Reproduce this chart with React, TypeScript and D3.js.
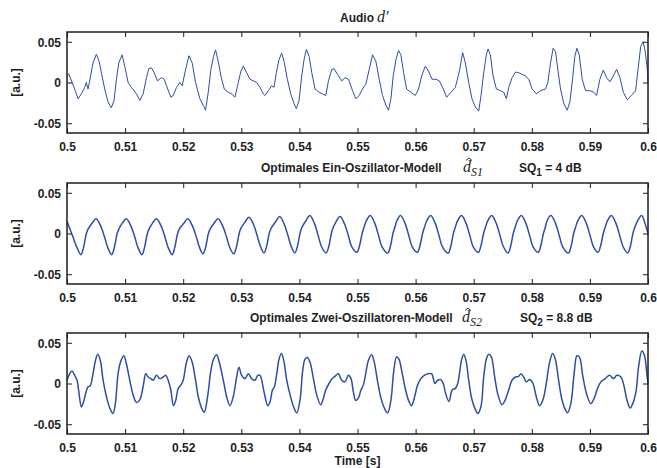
import React, { useRef, useEffect } from "react";
import { select, scaleLinear, line, axisBottom, axisTop, axisLeft, axisRight, curveLinear, curveCatmullRom } from "d3";

// x ticks (time in s) and y ticks (a.u.)
const xTicks = [0.5, 0.51, 0.52, 0.53, 0.54, 0.55, 0.56, 0.57, 0.58, 0.59, 0.6];
const xTickLabels = ["0.5", "0.51", "0.52", "0.53", "0.54", "0.55", "0.56", "0.57", "0.58", "0.59", "0.6"];
const yTicks = [-0.05, 0, 0.05];
const yTickLabels = ["-0.05", "0", "0.05"];

// samples: [ms after 0.5 s, value in 1e-3 a.u.]
const audioSamples: [number, number][] = [
  [0.0, 8], [0.29, 10.8], [1.32, -8], [1.9, -20], [2.47, -14], [3.05, -6], [3.33, 0], [3.62, -8], [3.91, 2],
  [4.48, 24], [5.06, 34.8], [5.52, 26], [5.92, 12], [6.49, -8], [7.07, -24], [7.64, -31], [8.1, -22], [8.51, 4],
  [8.91, 24], [9.48, 34], [9.94, 20], [10.52, 0], [11.09, -6], [11.95, -14], [12.53, -22], [13.1, -14], [13.68, 6],
  [14.08, 16.8], [14.54, 18], [15.0, 12], [15.57, 2], [16.26, 6], [16.72, 4], [17.13, -4], [17.87, -18], [18.28, -16],
  [18.85, -6], [19.43, 0], [19.83, -4], [20.29, 12], [20.98, 32.8], [21.55, 24], [22.13, 0], [22.87, -20], [23.45, -28],
  [23.85, -34], [24.31, -12], [24.77, 16], [25.23, 32], [25.57, 40], [26.03, 26], [26.49, 8], [27.07, -8], [27.76, -12],
  [28.33, -14], [28.91, -18], [29.48, 0], [29.94, 14], [30.34, 20], [30.92, 12], [31.49, 4], [32.07, 2], [32.64, 0],
  [33.22, -6], [33.79, -14], [34.08, -16], [34.66, -10], [35.23, -4], [35.63, -6], [36.03, 12], [36.49, 28], [36.95, 36],
  [37.36, 26], [37.93, 4], [38.51, -14], [39.08, -26], [39.48, -32], [39.94, -22], [40.4, 8], [40.8, 28], [41.21, 40.8],
  [41.67, 32], [42.13, 12], [42.7, -8], [43.39, -12], [43.97, -14], [44.54, -16], [45.0, 2], [45.57, 16], [45.98, 16.8],
  [46.55, 10], [47.3, 2], [47.87, 6], [48.45, 4], [49.14, -10], [49.71, -20], [50.29, -16], [50.86, -8], [51.44, -2],
  [52.01, 16], [52.59, 34], [53.16, 26], [53.74, 4], [54.31, -16], [54.89, -28], [55.34, -34], [55.75, -20], [56.15, 8],
  [56.61, 28], [57.07, 39.2], [57.47, 34], [57.93, 12], [58.45, -8], [59.2, -12], [59.94, -16], [60.52, -8], [61.03, 8],
  [61.67, 20], [62.24, 14], [62.82, 4], [63.51, 4], [64.08, 2], [64.77, -8], [65.34, -18], [66.09, -12], [66.84, -6],
  [67.13, 2], [67.59, 16], [68.1, 36.8], [68.56, 24], [69.14, 0], [69.71, -20], [70.29, -30], [70.86, -35.2], [71.26, -16],
  [71.72, 12], [72.18, 34], [72.47, 41.2], [72.87, 34], [73.33, 8], [73.91, -8], [74.6, -10], [75.17, -12], [75.63, -20],
  [76.03, -6], [76.61, 6], [77.18, 12.8], [77.76, 12], [78.33, 10], [78.91, 8], [79.48, 4], [80.06, -8], [80.8, -14],
  [81.49, -10], [82.36, -8], [82.76, 0], [83.22, 24], [83.68, 42], [84.08, 38], [84.48, 16], [84.94, -8], [85.52, -26],
  [86.09, -34], [86.55, -24], [87.01, 4], [87.41, 32], [87.76, 42], [88.16, 34], [88.68, 4], [89.25, -10], [90.0, -10],
  [90.69, -12], [91.15, -16], [91.72, 4], [92.3, 15.2], [92.87, 6], [93.45, 0.8], [94.02, 8], [94.6, 16], [95.17, 6],
  [95.75, -12], [96.44, -21.2], [97.13, -16], [97.87, -10], [98.28, 16], [98.74, 44], [99.14, 50], [99.48, 40],
  [99.89, 16], [100.0, 0],
];

const einOszillatorSamples: [number, number][] = [
  [0, 15], [0.85, -1], [1.7, -17],
  [2.4, -26], [2.85, -17], [3.3, -1], [3.6, 5], [4.35, 13], [5.0, 18], [5.75, 10], [6.45, -4], [7.0, -17],
  [7.7, -26], [8.15, -17], [8.6, -1], [8.9, 5], [9.55, 13], [10.2, 18], [10.95, 10], [11.65, -4], [12.2, -17],
  [12.9, -26], [13.35, -17], [13.8, -1], [14.1, 5], [14.75, 13], [15.4, 18], [16.15, 10], [16.85, -4], [17.4, -17],
  [18.1, -26], [18.55, -17], [19.0, -1], [19.3, 5], [20.15, 13], [20.8, 18], [21.55, 10], [22.25, -4], [22.8, -17],
  [23.4, -25], [23.85, -17], [24.3, -1], [24.6, 5], [25.35, 13], [26.0, 18], [26.75, 10], [27.45, -4], [28.0, -17],
  [28.7, -25], [29.15, -17], [29.6, -1], [29.9, 6], [30.65, 14], [31.3, 20], [32.05, 12], [32.75, -3], [33.3, -16],
  [33.9, -24], [34.35, -16], [34.8, 0], [35.1, 6], [35.95, 15], [36.6, 21], [37.35, 12], [38.05, -3], [38.6, -16],
  [39.2, -24], [39.65, -16], [40.1, 0], [40.4, 7], [41.15, 16], [41.8, 22], [42.55, 13], [43.25, -3], [43.8, -16],
  [44.6, -24], [45.05, -16], [45.5, 0], [45.8, 7], [46.35, 15], [47.0, 21], [47.75, 12], [48.45, -3], [49.0, -16],
  [49.9, -23], [50.35, -15], [50.8, 0], [51.1, 7], [51.55, 16], [52.2, 22], [52.95, 13], [53.65, -3], [54.2, -16],
  [55.2, -24], [55.65, -16], [56.1, 0], [56.4, 7], [56.8, 16], [57.4, 22], [58.15, 13], [58.85, -3], [59.4, -16],
  [60.3, -23], [60.75, -15], [61.2, 0], [61.5, 7], [61.95, 16], [62.6, 22], [63.35, 13], [64.05, -3], [64.6, -16],
  [65.6, -24], [66.05, -16], [66.5, 0], [66.8, 7], [67.25, 16], [67.9, 22], [68.65, 13], [69.35, -3], [69.9, -16],
  [70.8, -23], [71.25, -15], [71.7, 0], [72.0, 7], [72.45, 16], [73.1, 22], [73.85, 13], [74.55, -3], [75.1, -16],
  [75.9, -24], [76.35, -16], [76.8, 0], [77.1, 7], [77.55, 16], [78.2, 22], [78.95, 13], [79.65, -3], [80.2, -16],
  [81.1, -23], [81.55, -15], [82.0, 0], [82.3, 7], [82.65, 16], [83.3, 22], [84.05, 13], [84.75, -3], [85.3, -16],
  [86.3, -24], [86.75, -16], [87.2, 0], [87.5, 7], [87.95, 16], [88.6, 22], [89.35, 13], [90.05, -3], [90.6, -16],
  [91.4, -23], [91.85, -15], [92.3, 0], [92.6, 7], [93.05, 16], [93.7, 22], [94.45, 13], [95.15, -3], [95.7, -16],
  [96.5, -24], [96.95, -16], [97.4, 0], [97.7, 7], [98.25, 16], [98.9, 22], [99.5, 12], [100, 0],
];

const zweiOszillatorSamples: [number, number][] = [
  [0.0, 4], [0.46, 12], [0.86, 15.2], [1.32, 10], [1.72, 4], [2.07, -12], [2.47, -28.8], [2.87, -22], [3.22, -12],
  [3.62, -4], [3.97, -3.2], [4.48, 12], [4.89, 28], [5.29, 36], [5.75, 28], [6.21, 4], [6.78, -16], [7.36, -30],
  [7.93, -36.8], [8.33, -24], [8.79, 12], [9.2, 26], [9.77, 34], [10.23, 24], [10.8, 4], [11.38, -14], [11.95, -23.2],
  [12.53, -20], [13.1, -4], [13.56, 12], [13.97, 8], [14.43, 6], [14.83, 4], [15.4, 10], [15.98, 6], [16.55, 8],
  [17.01, 10], [17.41, 4], [17.87, -8], [18.33, -27.2], [18.74, -20], [19.14, -6], [19.6, -2], [20.0, 4], [20.57, 26],
  [21.03, 34], [21.55, 26], [22.13, 4], [22.59, -16], [23.16, -30], [23.62, -35.2], [24.2, -16], [24.77, 16], [25.23, 30],
  [25.75, 35.2], [26.21, 26], [26.9, 4], [27.47, -16], [28.05, -27.2], [28.62, -16], [29.2, 8], [29.6, 20], [30.06, 10],
  [30.63, 6], [31.21, 12], [31.78, 6], [32.36, 4], [32.82, 10], [33.22, 10], [33.79, -6], [34.08, -16],
  [34.56, -27.2], [34.96, -22], [35.36, -8], [35.7, -4], [36.1, 12], [36.5, 30], [36.91, 36.8], [37.31, 28], [37.82, 4],
  [38.4, -14], [38.97, -28], [39.54, -36], [40.11, -20], [40.57, 16], [40.97, 30], [41.38, 32], [41.83, 26], [42.41, 6],
  [42.98, -14], [43.67, -26], [44.13, -18], [44.53, -8], [45.1, 0], [45.67, 6], [46.13, 8.8], [46.7, 12], [47.28, 4],
  [47.85, 2], [48.42, 10], [48.88, 6], [49.28, -10], [49.68, -20.8], [50.14, -18], [50.6, -8], [51.0, -2], [51.46, 14],
  [51.86, 28], [52.44, 35.2], [52.89, 26], [53.47, 2], [54.04, -18], [54.61, -30], [55.19, -36], [55.76, -20], [56.22, 14],
  [56.73, 32.8], [57.13, 30], [57.71, 12], [58.28, -8], [58.85, -22], [59.31, -27.2], [59.77, -18], [60.34, -2],
  [60.92, 6], [61.49, 10], [62.18, 12], [62.75, 12], [63.32, 0], [63.78, 4], [64.36, 4.8], [64.76, 0], [65.16, -12],
  [65.73, -22], [66.3, -8], [66.85, -6], [67.25, 0], [67.59, 14], [67.88, 28], [68.28, 36], [68.68, 28], [69.14, 4],
  [69.71, -20], [70.29, -32], [70.74, -36.8], [71.26, -28], [71.72, 8], [72.18, 30], [72.58, 36], [73.04, 32.8],
  [73.61, 8], [74.18, -14], [74.87, -26], [75.44, -20], [76.02, -8], [76.59, 4], [77.16, 8], [77.74, 8.8], [78.14, 12],
  [78.6, 8], [79.05, 2], [79.63, 4.8], [80.2, 0], [80.77, -16], [81.35, -27.2], [81.92, -20], [82.49, 0], [83.01, 24],
  [83.58, 36.8], [84.04, 30], [84.61, 4], [85.19, -20], [85.76, -32], [86.16, -36], [86.73, -24], [87.31, 14], [87.77, 34],
  [88.22, 32], [88.8, 8], [89.48, -14], [90.17, -24.8], [90.74, -18], [91.32, -6], [91.89, 2], [92.64, 6], [93.38, 10],
  [94.07, 6], [94.64, 10], [95.33, 8], [95.9, -4], [96.36, -20], [96.93, -30], [97.51, -22], [97.97, -8], [98.37, 20],
  [98.94, 40], [99.4, 34], [99.8, 12], [100.0, 0],
];

const WIDTH = 657;
const HEIGHT = 468;
const LEFT = 67;
const RIGHT = 648;
const PANEL_H = 101;
const panelTops = [32, 183, 333];
const lineColor = "#2d4ea6";
const inkColor = "#1e1e1e";
const sansBold = "'Liberation Sans', Arial, Helvetica, sans-serif";
const mathFont = "'Liberation Serif', 'DejaVu Serif', serif";

function App() {
  const svgRef = useRef<SVGSVGElement>(null);

  useEffect(() => {
    const svg = select(svgRef.current);
    svg.selectAll("*").remove();

    const xScale = scaleLinear().domain([0.5, 0.6]).range([LEFT, RIGHT]);

    const panels = [
      { data: audioSamples, width: 1, curve: curveLinear },
      { data: einOszillatorSamples, width: 1.5, curve: curveCatmullRom },
      { data: zweiOszillatorSamples, width: 1.5, curve: curveCatmullRom },
    ];

    panels.forEach((p, i) => {
      const top = panelTops[i];
      const bottom = top + PANEL_H;
      const yScale = scaleLinear().domain([-0.062, 0.062]).range([bottom, top]);
      const g = svg.append("g");

      // Kurve
      const path = line<[number, number]>()
        .x((d) => xScale(0.5 + d[0] / 1000))
        .y((d) => yScale(d[1] / 1000))
        .curve(p.curve);

      g.append("path")
        .datum(p.data)
        .attr("d", path)
        .attr("fill", "none")
        .attr("stroke", lineColor)
        .attr("stroke-width", p.width)
        .attr("stroke-linejoin", "round");

      // Achsen (Ticks nach innen)
      const fmtX = (d: any) => xTickLabels[xTicks.indexOf(d)];
      const fmtY = (d: any) => yTickLabels[yTicks.indexOf(d)];

      const xb = g.append("g").attr("transform", `translate(0,${bottom})`)
        .call(axisBottom(xScale).tickValues(xTicks).tickFormat(fmtX).tickSizeInner(-5).tickSizeOuter(0).tickPadding(9));
      const xt = g.append("g").attr("transform", `translate(0,${top})`)
        .call(axisTop(xScale).tickValues(xTicks).tickFormat(() => "").tickSizeInner(-5).tickSizeOuter(0));
      const yl = g.append("g").attr("transform", `translate(${LEFT},0)`)
        .call(axisLeft(yScale).tickValues(yTicks).tickFormat(fmtY).tickSizeInner(-5).tickSizeOuter(0).tickPadding(6));
      const yr = g.append("g").attr("transform", `translate(${RIGHT},0)`)
        .call(axisRight(yScale).tickValues(yTicks).tickFormat(() => "").tickSizeInner(-5).tickSizeOuter(0));

      [xb, xt, yl, yr].forEach((a) => {
        a.select(".domain").remove();
        a.selectAll("line").attr("stroke", inkColor).attr("stroke-width", 1);
        a.selectAll("text")
          .attr("fill", inkColor)
          .style("font-family", sansBold)
          .style("font-weight", "bold")
          .style("font-size", "12px");
      });
      yl.selectAll("text").attr("dy", "0.36em");

      g.append("rect")
        .attr("x", LEFT)
        .attr("y", top)
        .attr("width", RIGHT - LEFT)
        .attr("height", PANEL_H)
        .attr("fill", "none")
        .attr("stroke", inkColor)
        .attr("stroke-width", 1.5);

      // y label
      g.append("text")
        .attr("transform", `translate(20,${top + PANEL_H / 2}) rotate(-90)`)
        .attr("text-anchor", "middle")
        .attr("fill", inkColor)
        .style("font-family", sansBold)
        .style("font-weight", "bold")
        .style("font-size", "12px")
        .text("[a.u.]");
    });

    const label = (x: number, y: number, txt: string) =>
      svg.append("text")
        .attr("x", x)
        .attr("y", y)
        .attr("fill", inkColor)
        .style("font-family", sansBold)
        .style("font-weight", "bold")
        .style("font-size", "12px")
        .text(txt);

    // d mit Hut und Index, kursiv
    const math = (x: number, y: number, main: string, sub: string, hat: boolean) => {
      const t = svg.append("text")
        .attr("x", x)
        .attr("y", y)
        .attr("fill", inkColor)
        .style("font-family", mathFont)
        .style("font-style", "italic")
        .style("font-size", "16px");
      t.append("tspan").text(main);
      if (sub) t.append("tspan").attr("dy", 4).style("font-size", "12px").text(sub);
      if (hat) {
        const hx = x + 6;
        const hy = y - 14;
        svg.append("path")
          .attr("d", `M${hx - 3},${hy + 2.5}L${hx},${hy}L${hx + 3},${hy + 2.5}`)
          .attr("fill", "none")
          .attr("stroke", inkColor)
          .attr("stroke-width", 0.9);
      }
    };

    const subLabel = (x: number, y: number, a: string, sub: string, b: string) => {
      const t = label(x, y, "");
      t.append("tspan").text(a);
      t.append("tspan").attr("dy", 4).style("font-size", "10px").text(sub);
      t.append("tspan").attr("dy", -4).text(b);
    };

    // Titel
    label(340, 22, "Audio");
    math(377, 22, "d\u2032", "", false);
    label(261, 172, "Optimales Ein-Oszillator-Modell");
    math(463, 172, "d", "S1", true);
    subLabel(519, 172, "SQ", "1", " = 4 dB");
    label(250, 322, "Optimales Zwei-Oszillatoren-Modell");
    math(462, 322, "d", "S2", true);
    subLabel(520, 322, "SQ", "2", " = 8.8 dB");

    svg.append("text")
      .attr("x", (LEFT + RIGHT) / 2)
      .attr("y", 465)
      .attr("text-anchor", "middle")
      .attr("fill", inkColor)
      .style("font-family", sansBold)
      .style("font-weight", "bold")
      .style("font-size", "12px")
      .text("Time [s]");
  }, []);

  return (
    <svg
      ref={svgRef}
      width={WIDTH}
      height={HEIGHT}
      style={{ position: "absolute", left: 0, top: 0, background: "#fff" }}
    />
  );
}

export default App;
